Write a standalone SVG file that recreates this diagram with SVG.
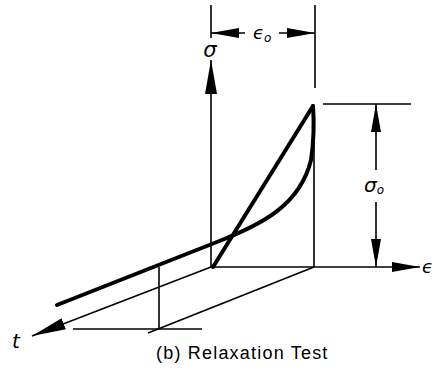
<svg xmlns="http://www.w3.org/2000/svg" width="443" height="375" viewBox="0 0 443 375">
<defs>
<marker id="ah" viewBox="0 0 28 10" refX="28" refY="5" markerWidth="28" markerHeight="10" markerUnits="userSpaceOnUse" orient="auto">
<path d="M0,0 L28,5 L0,10 Z" fill="#000"/>
</marker>
<marker id="ahs" viewBox="0 0 34 12" refX="34" refY="6" markerWidth="34" markerHeight="12" markerUnits="userSpaceOnUse" orient="auto">
<path d="M0,0 L34,6 L0,12 Z" fill="#000"/>
</marker>
</defs>
<style>
.thin{stroke:#000;stroke-width:1.6;fill:none}
.thick{stroke:#000;stroke-width:4;fill:none;stroke-linecap:round}
.sym{font-family:"DejaVu Sans","Liberation Sans",sans-serif;font-style:italic;fill:#000}
.cap{font-family:"Liberation Sans",Arial,sans-serif;font-size:18px;letter-spacing:1.2px;fill:#000}
</style>
<rect width="443" height="375" fill="#fff"/>
<g id="connectors">
<!-- sigma axis -->
<line class="thin" x1="211" y1="267" x2="211" y2="60" marker-end="url(#ahs)"/>
<!-- epsilon axis -->
<line class="thin" x1="211" y1="267" x2="420" y2="267" marker-end="url(#ah)"/>
<!-- t axis -->
<line class="thin" x1="211" y1="267" x2="32" y2="336" marker-end="url(#ahs)"/>
<!-- parallel line from eps0 -->
<line class="thin" x1="314" y1="267" x2="148" y2="333"/>
<!-- vertical at eps0 -->
<line class="thin" x1="314" y1="105" x2="314" y2="267"/>
<!-- horizontal and vertical near t -->
<line class="thin" x1="73" y1="329" x2="202" y2="329"/>
<line class="thin" x1="159" y1="267" x2="159" y2="329"/>
<!-- top dimension extension lines -->
<line class="thin" x1="211" y1="5" x2="211" y2="38"/>
<line class="thin" x1="315" y1="5" x2="315" y2="88"/>
<line class="thin" x1="245" y1="33" x2="211" y2="33" marker-end="url(#ah)"/>
<line class="thin" x1="279" y1="33" x2="315" y2="33" marker-end="url(#ah)"/>
<!-- sigma0 dimension -->
<line class="thin" x1="323" y1="104" x2="411" y2="104"/>
<line class="thin" x1="376" y1="170" x2="376" y2="104" marker-end="url(#ah)"/>
<line class="thin" x1="376" y1="202" x2="376" y2="267" marker-end="url(#ah)"/>
</g>
<g id="loading-line">
<line class="thick" x1="213" y1="267" x2="313" y2="106"/>
</g>
<g id="relaxation-curve">
<path class="thick" d="M57,305 L222,240 C262,224 300,205 311,160 C314,140 314,120 313,106"/>
</g>
<g id="labels">
<text class="sym" x="210" y="57" font-size="21" text-anchor="middle">σ</text>
<text class="sym" x="253" y="39" font-size="18">ϵ<tspan font-size="12" dy="3">o</tspan></text>
<text class="sym" x="364" y="192" font-size="20">σ<tspan font-size="12" dy="2">o</tspan></text>
<text class="sym" x="422" y="273" font-size="18">ϵ</text>
<text class="sym" x="12" y="348" font-size="20">t</text>
<text class="cap" x="156" y="359">(b) Relaxation Test</text>
</g>
</svg>
